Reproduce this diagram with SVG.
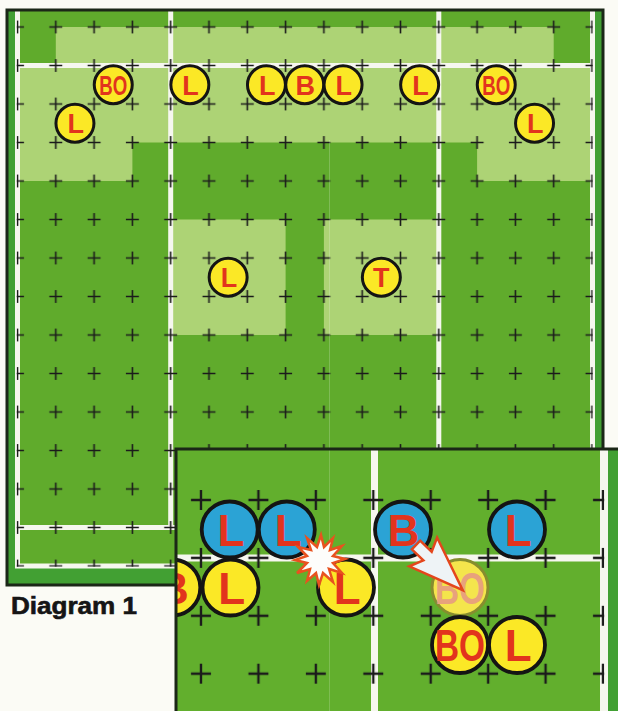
<svg xmlns="http://www.w3.org/2000/svg" width="618" height="711" viewBox="0 0 618 711">
<style>
.med{fill:#60ab2c}
.lite{fill:#add375}
.strip{fill:#42a033}
.wl{fill:#f6f7ef}
.border{fill:none;stroke:#1b2717;stroke-width:3}
.py circle{fill:#fbe826;stroke:#141414;stroke-width:3}
.pb circle{fill:#2ba3d5;stroke:#141414;stroke-width:3.8}
.iy circle{fill:#fbe826;stroke:#141414;stroke-width:3.8}
.ghost circle{fill:#f4e54c;stroke:#868d2f;stroke-width:3}
.t{font-family:"Liberation Sans",Arial,sans-serif;font-weight:bold;fill:#e2341d;text-anchor:middle}
.ts{font-size:27px}
.tl{font-size:44px}
.ghost text{fill:#e8a27c}
</style>
<defs>
<pattern id="pm" patternUnits="userSpaceOnUse" x="-1.65" y="7.75" width="38.3" height="38.5">
<path d="M12.65,19.25h13M19.15,12.75v13" stroke="#1b1b1b" stroke-width="1.6" fill="none"/>
</pattern>
<pattern id="pi" patternUnits="userSpaceOnUse" x="172.3" y="471.05" width="57.43" height="57.9">
<path d="M18.7,28.95h20M28.7,18.95v20" stroke="#1b1b1b" stroke-width="2.4" fill="none"/>
</pattern>
<clipPath id="insetClip"><rect x="176" y="449" width="442" height="262"/></clipPath>
</defs>
<rect x="0" y="0" width="618" height="711" fill="#fbfbf5"/>

<g id="main-pitch">
<rect class="strip" x="7" y="10" width="596" height="575"/>
<rect class="wl" x="15" y="10" width="580" height="558.5"/>
<rect class="med" x="20" y="10" width="570" height="553.5"/>
<rect class="lite" x="55.8" y="27" width="497.9" height="36.5"/>
<rect class="lite" x="20" y="68" width="570" height="74.5"/>
<rect class="lite" x="20" y="142" width="112.4" height="39"/>
<rect class="lite" x="477.1" y="142" width="112.9" height="39"/>
<rect class="lite" x="170.7" y="219.5" width="114.9" height="115.5"/>
<rect class="lite" x="323.9" y="219.5" width="114.9" height="115.5"/>
<rect class="wl" x="168.2" y="10" width="5" height="520"/>
<rect class="wl" x="436.3" y="10" width="5" height="520"/>
<rect class="wl" x="20" y="63" width="570" height="5"/>
<rect class="wl" x="20" y="525" width="570" height="5"/>
<rect x="16.7" y="20" width="576.1" height="546.8" fill="url(#pm)"/>
<rect class="border" x="7" y="10" width="596" height="575"/>
</g>

<g id="main-players">
<g id="p-bo1" class="py"><circle cx="113.25" cy="84.75" r="19"/><text class="t ts" x="113.25" y="94.5" textLength="28" lengthAdjust="spacingAndGlyphs">BO</text></g>
<g id="p-l1" class="py"><circle cx="189.85" cy="84.75" r="19"/><text class="t ts" x="190.6" y="94.5">L</text></g>
<g id="p-l2" class="py"><circle cx="266.45" cy="84.75" r="19"/><text class="t ts" x="267.2" y="94.5">L</text></g>
<g id="p-b1" class="py"><circle cx="304.75" cy="84.75" r="19"/><text class="t ts" x="305.2" y="94.5">B</text></g>
<g id="p-l3" class="py"><circle cx="343.05" cy="84.75" r="19"/><text class="t ts" x="343.8" y="94.5">L</text></g>
<g id="p-l4" class="py"><circle cx="419.65" cy="84.75" r="19"/><text class="t ts" x="420.4" y="94.5">L</text></g>
<g id="p-bo2" class="py"><circle cx="496.25" cy="84.75" r="19"/><text class="t ts" x="496.25" y="94.5" textLength="28" lengthAdjust="spacingAndGlyphs">BO</text></g>
<g id="p-l5" class="py"><circle cx="74.95" cy="123.25" r="19"/><text class="t ts" x="75.7" y="133">L</text></g>
<g id="p-l6" class="py"><circle cx="534.55" cy="123.25" r="19"/><text class="t ts" x="535.3" y="133">L</text></g>
<g id="p-l7" class="py"><circle cx="228.15" cy="277.25" r="19"/><text class="t ts" x="228.9" y="287">L</text></g>
<g id="p-t1" class="py"><circle cx="381.35" cy="277.25" r="19"/><text class="t ts" x="381.35" y="287">T</text></g>
</g>

<line x1="329.5" y1="140" x2="329.5" y2="711" stroke="#ffffff" stroke-opacity="0.2" stroke-width="1"/>

<g id="inset" clip-path="url(#insetClip)">
<rect x="176" y="449" width="442" height="262" fill="#62af2d"/>
<rect x="608" y="449" width="10" height="262" class="strip"/>
<rect class="wl" x="600" y="449" width="8" height="262"/>
<rect class="wl" x="371" y="449" width="7" height="262"/>
<rect class="wl" x="176" y="554.5" width="424" height="7"/>
<rect x="177" y="453" width="427.2" height="258" fill="url(#pi)"/>
<line x1="329.5" y1="449" x2="329.5" y2="711" stroke="#ffffff" stroke-opacity="0.18" stroke-width="1"/>

<g id="i-yb" class="iy"><circle cx="172.3" cy="587.5" r="28"/><text class="t tl" x="173" y="603.5">B</text></g>
<g id="i-yl1" class="iy"><circle cx="230.5" cy="587.5" r="28"/><text class="t tl" x="231.8" y="603.5">L</text></g>
<g id="i-yl2" class="iy"><circle cx="346" cy="587.5" r="28"/><text class="t tl" x="347.3" y="603.5">L</text></g>
<g id="i-bl1" class="pb"><circle cx="229.7" cy="529.5" r="28"/><text class="t tl" x="231" y="545.5">L</text></g>
<g id="i-bl2" class="pb"><circle cx="286.8" cy="529.5" r="28"/><text class="t tl" x="288.1" y="545.5">L</text></g>
<g id="i-bb" class="pb"><circle cx="403" cy="529.5" r="28"/><text class="t tl" x="403.5" y="545.5">B</text></g>
<g id="i-bl3" class="pb"><circle cx="517" cy="529.5" r="28"/><text class="t tl" x="518.3" y="545.5">L</text></g>
<g id="i-ghost" class="ghost"><circle cx="460" cy="587.5" r="28"/><text class="t tl" x="460" y="603.5" textLength="50" lengthAdjust="spacingAndGlyphs">BO</text></g>
<g id="i-bo" class="iy"><circle cx="460" cy="645" r="28"/><text class="t tl" x="460" y="661" textLength="50" lengthAdjust="spacingAndGlyphs">BO</text></g>
<g id="i-yl3" class="iy"><circle cx="517" cy="645" r="28"/><text class="t tl" x="518.3" y="661">L</text></g>

<g id="connectors">
<polygon id="burst" points="321,535 324,547 333,538 330,550 342,546 333,556 345,559 333,563 342,573 329,569 333,582 323,573 319,585 316,573 307,581 310,569 297,573 307,563 295,560 307,556 298,547 311,550 307,538 317,547" fill="#fdfdfb" stroke="#e8521f" stroke-width="2.5" stroke-linejoin="miter"/>
<polygon id="arrow" transform="translate(416,545) rotate(44)" points="0,-6 16,-6 10,-20 65,0 10,20 16,6 0,6" fill="#eef3f6" stroke="#e4461c" stroke-width="2.5" stroke-linejoin="miter"/>
</g>
</g>
<path d="M176,711V449H618" fill="none" stroke="#1b2717" stroke-width="3"/>

<text x="11" y="614" font-family="'Liberation Sans',Arial,sans-serif" font-weight="900" font-size="23" fill="#151515" stroke="#151515" stroke-width="0.6" textLength="126" lengthAdjust="spacingAndGlyphs">Diagram 1</text>
</svg>
